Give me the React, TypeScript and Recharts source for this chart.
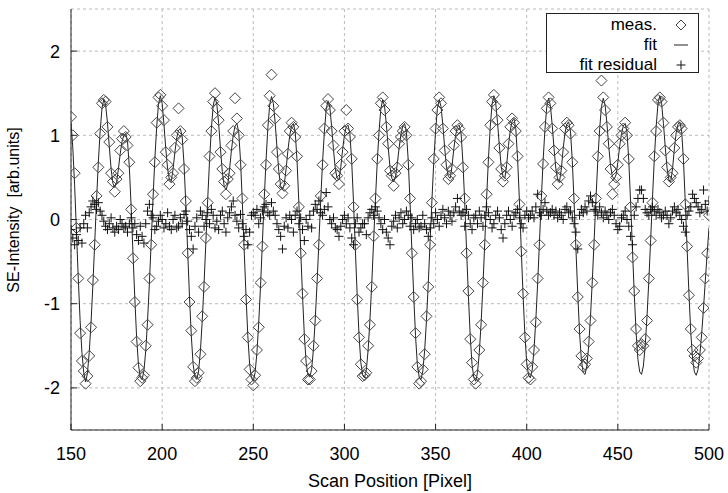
import React from 'react';
import { ComposedChart, Line, Scatter, XAxis, YAxis, CartesianGrid, Legend } from 'recharts';

// scan samples, one per pixel starting at 150
const X_START = 150;

// fitted curve (150..500)
const fit = [
  1.15, 0.85, 0.4, -0.15, -0.7, -1.2, -1.58, -1.82,
  // 158
  -1.93, -1.83, -1.58, -1.22, -0.78, -0.28, 0.22, 0.68, 1.05, 1.32, 1.43, 1.36, 1.15, 0.87, 0.6, 0.43, 0.38, 0.44, 0.6, 0.78, 0.93, 1.0, 1.02, 0.93, 0.62, 0.15, -0.4, -0.93, -1.4, -1.72, -1.88,
  // 189
  -1.9, -1.8, -1.56, -1.2, -0.76, -0.26, 0.25, 0.72, 1.1, 1.37, 1.47, 1.38, 1.13, 0.84, 0.6, 0.47, 0.45, 0.6, 0.8, 0.97, 1.06, 1.08, 0.98, 0.66, 0.18, -0.37, -0.92, -1.38, -1.72, -1.87,
  // 219
  -1.9, -1.8, -1.56, -1.2, -0.76, -0.26, 0.24, 0.7, 1.08, 1.35, 1.45, 1.37, 1.14, 0.84, 0.57, 0.4, 0.35, 0.42, 0.6, 0.82, 1.0, 1.11, 1.14, 1.04, 0.7, 0.2, -0.36, -0.9, -1.38, -1.72, -1.88,
  // 250
  -1.92, -1.82, -1.58, -1.22, -0.78, -0.27, 0.24, 0.7, 1.09, 1.36, 1.46, 1.38, 1.15, 0.85, 0.57, 0.4, 0.35, 0.42, 0.6, 0.82, 1.0, 1.11, 1.14, 1.04, 0.7, 0.2, -0.36, -0.9, -1.37, -1.7, -1.85,
  // 281
  -1.87, -1.78, -1.54, -1.18, -0.75, -0.26, 0.23, 0.68, 1.04, 1.31, 1.41, 1.33, 1.1, 0.83, 0.6, 0.49, 0.47, 0.62, 0.83, 1.0, 1.1, 1.12, 1.02, 0.68, 0.2, -0.36, -0.9, -1.37, -1.7, -1.85,
  // 311
  -1.88, -1.79, -1.55, -1.19, -0.76, -0.26, 0.23, 0.68, 1.05, 1.32, 1.42, 1.35, 1.13, 0.86, 0.62, 0.49, 0.45, 0.5, 0.66, 0.85, 1.01, 1.11, 1.14, 1.04, 0.7, 0.2, -0.36, -0.9, -1.38, -1.72, -1.87,
  // 342
  -1.9, -1.8, -1.56, -1.2, -0.76, -0.26, 0.23, 0.68, 1.05, 1.32, 1.42, 1.34, 1.12, 0.85, 0.62, 0.51, 0.49, 0.63, 0.84, 1.0, 1.1, 1.12, 1.02, 0.68, 0.2, -0.36, -0.9, -1.38, -1.72, -1.88,
  // 372
  -1.92, -1.82, -1.58, -1.22, -0.78, -0.27, 0.25, 0.72, 1.1, 1.37, 1.47, 1.38, 1.15, 0.87, 0.63, 0.51, 0.49, 0.65, 0.88, 1.06, 1.17, 1.2, 1.08, 0.72, 0.22, -0.35, -0.9, -1.37, -1.7, -1.85,
  // 402
  -1.88, -1.79, -1.55, -1.19, -0.76, -0.26, 0.24, 0.7, 1.07, 1.34, 1.44, 1.35, 1.12, 0.84, 0.6, 0.47, 0.45, 0.6, 0.84, 1.03, 1.13, 1.16, 1.05, 0.7, 0.2, -0.35, -0.88, -1.35, -1.67, -1.82,
  // 432
  -1.84, -1.74, -1.5, -1.15, -0.72, -0.24, 0.25, 0.7, 1.07, 1.34, 1.44, 1.36, 1.14, 0.87, 0.64, 0.51, 0.48, 0.53, 0.68, 0.87, 1.02, 1.11, 1.14, 1.04, 0.7, 0.2, -0.35, -0.88, -1.34, -1.66, -1.81,
  // 463
  -1.84, -1.74, -1.5, -1.15, -0.72, -0.24, 0.26, 0.72, 1.1, 1.37, 1.47, 1.38, 1.14, 0.86, 0.61, 0.47, 0.45, 0.6, 0.84, 1.03, 1.13, 1.16, 1.05, 0.7, 0.2, -0.35, -0.88, -1.34, -1.66, -1.81,
  // 493
  -1.85, -1.78, -1.6, -1.35, -1.05, -0.72, -0.4, -0.1,
];

// measured SE intensity
const meas = [
  1.22, 1.0, 0.55, -0.1, -0.7, -1.35, -1.68, -1.8,
  -1.95, -1.86, -1.62, -1.28, -0.72, -0.3, 0.28, 0.62, 1.02, 1.38, 1.42, 1.4, 1.1, 0.92, 0.55, 0.45, 0.33, 0.48, 0.55, 0.82, 0.96, 1.05, 0.98, 0.88, 0.68, 0.12, -0.46, -0.98, -1.45, -1.76, -1.92,
  -1.88, -1.85, -1.5, -1.25, -0.7, -0.3, 0.3, 0.68, 1.15, 1.45, 1.48, 1.35, 1.18, 0.8, 0.65, 0.42, 0.5, 0.55, 0.85, 1.0, 1.32, 1.05, 0.95, 0.6, 0.22, -0.4, -0.98, -1.32, -1.75, -1.92,
  -1.88, -1.82, -1.6, -1.15, -0.8, -0.22, 0.2, 0.75, 1.05, 1.4, 1.5, 1.32, 1.18, 0.8, 0.6, 0.45, 0.3, 0.48, 0.55, 0.88, 1.05, 1.44, 1.2, 1.0, 0.65, 0.25, -0.3, -0.95, -1.4, -1.78, -1.9,
  -1.97, -1.85, -1.55, -1.28, -0.75, -0.32, 0.3, 0.65, 1.12, 1.47, 1.72, 1.35, 1.2, 0.8, 0.6, 0.42, 0.31, 0.4, 0.58, 0.78, 1.05, 1.15, 1.1, 0.98, 0.75, 0.15, -0.4, -0.88, -1.42, -1.68, -1.9,
  -1.9, -1.8, -1.5, -1.2, -0.7, -0.3, 0.28, 0.65, 1.08, 1.35, 1.43, 1.3, 1.05, 0.88, 0.55, 0.52, 0.42, 0.65, 0.8, 1.05, 1.3, 1.08, 0.98, 0.72, 0.15, -0.3, -0.95, -1.4, -1.72, -1.86,
  -1.85, -1.82, -1.5, -1.25, -0.8, -0.2, 0.25, 0.72, 1.0, 1.38, 1.45, 1.3, 1.1, 0.9, 0.58, 0.52, 0.4, 0.55, 0.62, 0.9, 0.98, 1.05, 1.1, 1.0, 0.65, 0.25, -0.4, -0.92, -1.35, -1.75, -1.95,
  -1.92, -1.78, -1.6, -1.15, -0.8, -0.3, 0.2, 0.72, 1.08, 1.3, 1.45, 1.38, 1.08, 0.82, 0.65, 0.48, 0.52, 0.6, 0.88, 1.05, 1.12, 1.08, 0.98, 0.62, 0.25, -0.4, -0.85, -1.42, -1.7, -1.9,
  -1.95, -1.85, -1.55, -1.25, -0.75, -0.3, 0.3, 0.68, 1.12, 1.4, 1.48, 1.35, 1.18, 0.85, 0.6, 0.45, 0.52, 0.62, 0.9, 1.1, 1.2, 1.15, 1.05, 0.75, 0.18, -0.38, -0.88, -1.4, -1.72, -1.88,
  -1.9, -1.75, -1.55, -1.22, -0.7, -0.3, 0.28, 0.66, 1.1, 1.32, 1.45, 1.38, 1.08, 0.82, 0.62, 0.42, 0.5, 0.58, 0.8, 1.08, 1.15, 1.12, 1.02, 0.68, 0.25, -0.3, -0.92, -1.3, -1.62, -1.75,
  -1.72, -1.65, -1.45, -1.2, -0.75, -0.3, 0.25, 0.75, 1.05, 1.65, 1.45, 1.3, 1.1, 0.9, 0.6, 0.3, 0.42, 0.5, 0.65, 0.9, 1.0, 1.08, 1.15, 1.0, 0.72, 0.15, -0.45, -0.85, -1.3, -1.5, -1.55,
  -1.48, -1.5, -1.42, -1.2, -0.7, -0.25, 0.2, 0.75, 1.05, 1.42, 1.45, 1.4, 1.15, 0.82, 0.62, 0.45, 0.5, 0.55, 0.85, 1.0, 1.1, 1.12, 1.08, 0.72, 0.18, -0.32, -0.9, -1.3, -1.55, -1.62,
  -1.7, -1.65, -1.55, -1.4, -1.05, -0.7, -0.4, 0.05,
];

// fit residual
const residual = [
  -0.12, -0.22, -0.3, -0.18, -0.25, -0.1, -0.28, -0.05,
  0.05, -0.1, 0.08, 0.15, 0.22, 0.18, 0.12, 0.2, 0.1, 0.05, -0.02, -0.08, -0.12, -0.05, 0.02, -0.1, -0.15, -0.08, -0.12, 0.0, -0.05, -0.1, -0.08, -0.15, -0.05, 0.02, -0.1, -0.05, -0.18, -0.25, -0.08,
  -0.2, -0.28, -0.05, 0.1, 0.18, 0.05, 0.02, -0.12, -0.08, -0.02, 0.05, 0.0, -0.1, -0.05, 0.08, -0.08, -0.12, 0.0, 0.05, -0.1, -0.08, 0.02, -0.05, 0.06, 0.1, -0.02, -0.12, -0.2, -0.35, -0.08,
  0.02, -0.15, 0.1, 0.05, -0.08, 0.0, 0.08, -0.05, 0.12, 0.05, -0.1, -0.02, -0.12, 0.05, 0.1, -0.05, -0.15, 0.02, 0.08, 0.15, 0.22, 0.05, -0.02, -0.1, 0.06, -0.05, -0.2, -0.12, -0.3, -0.15, 0.05,
  0.08, 0.05, 0.12, -0.05, 0.02, 0.1, 0.15, 0.18, 0.08, 0.05, 0.2, 0.1, 0.05, -0.05, -0.12, -0.2, -0.35, -0.08, 0.02, -0.1, 0.05, 0.0, -0.15, 0.05, 0.1, -0.05, 0.02, -0.12, -0.25, 0.0, -0.08,
  0.05, -0.1, 0.1, 0.18, 0.12, 0.22, 0.08, 0.05, 0.12, 0.32, 0.15, 0.0, -0.05, 0.02, -0.1, -0.12, -0.2, -0.08, 0.0, 0.05, -0.05, 0.02, -0.1, -0.22, -0.3, -0.05, 0.02, -0.15, -0.1, -0.05,
  -0.05, -0.18, 0.02, 0.08, 0.12, 0.05, 0.15, 0.1, 0.02, -0.05, -0.12, 0.0, -0.15, -0.22, -0.3, -0.08, -0.02, 0.05, -0.1, 0.02, 0.08, -0.05, 0.0, 0.1, 0.05, -0.08, 0.02, -0.12, -0.05, 0.0, -0.1,
  -0.08, 0.05, -0.05, -0.12, -0.2, -0.1, 0.02, -0.05, 0.08, 0.0, -0.08, 0.05, 0.12, 0.02, -0.05, 0.1, 0.05, -0.02, 0.08, 0.15, 0.25, 0.1, 0.05, 0.08, -0.08, 0.12, 0.05, -0.05, -0.12, 0.02,
  0.05, -0.05, 0.1, 0.02, -0.08, 0.05, 0.15, 0.08, 0.0, -0.1, -0.05, 0.05, 0.1, 0.02, -0.12, -0.22, -0.05, 0.05, 0.1, 0.0, -0.08, 0.05, 0.08, 0.12, 0.02, -0.05, -0.1, 0.05, 0.1, 0.02,
  0.05, 0.1, 0.02, 0.15, 0.3, 0.08, 0.05, 0.12, 0.2, 0.1, 0.05, 0.08, 0.12, 0.05, 0.1, 0.02, 0.08, 0.05, 0.0, 0.12, 0.15, 0.08, 0.1, 0.02, -0.05, -0.15, -0.35, 0.05, 0.12, 0.08,
  0.15, 0.1, 0.22, 0.28, 0.2, 0.12, 0.1, 0.05, 0.15, 0.08, 0.02, 0.1, 0.05, 0.0, 0.08, 0.12, 0.05, -0.05, -0.12, -0.08, 0.02, 0.05, 0.1, 0.0, -0.08, -0.2, -0.3, 0.05, 0.15, 0.25, 0.35,
  0.35, 0.25, 0.12, 0.08, 0.05, 0.12, 0.15, 0.1, 0.05, 0.12, 0.08, 0.02, 0.05, 0.1, 0.05, -0.05, 0.02, 0.1, 0.15, 0.08, 0.12, 0.05, 0.0, -0.08, -0.15, 0.05, 0.1, 0.15, 0.3, 0.25,
  0.2, 0.15, 0.08, 0.12, 0.35, 0.18, 0.1, 0.22,
];

const xTicks = [150, 200, 250, 300, 350, 400, 450, 500];
const yTicks = [-2, -1, 0, 1, 2];

const FONT = '"Liberation Sans", Arial, sans-serif';
const INK = '#222';

const rows = fit.map((v, i) => ({ x: X_START + i, fit: v }));
const measPts = meas.map((v, i) => ({ x: X_START + i, y: v }));
const resPts = residual.map((v, i) => ({ x: X_START + i, y: v }));

const Diamond = ({ cx, cy }: any) => (
  <path d={`M${cx} ${cy - 5.5}L${cx + 5.5} ${cy}L${cx} ${cy + 5.5}L${cx - 5.5} ${cy}Z`} fill="none" stroke="#444" strokeWidth={1} />
);

const Cross = ({ cx, cy }: any) => (
  <path d={`M${cx - 4.5} ${cy}H${cx + 4.5}M${cx} ${cy - 4.5}V${cy + 4.5}`} stroke="#111" strokeWidth={1} />
);

const BottomTick = ({ x, y, payload }: any) => (
  <g>
    <line x1={x} y1={y} x2={x} y2={y - 6} stroke={INK} />
    <text x={x} y={y + 30} textAnchor="middle" fill="#000" style={{ fontSize: 18, fontFamily: FONT }}>{payload.value}</text>
  </g>
);

const LeftTick = ({ x, y, payload }: any) => (
  <g>
    <line x1={x} y1={y} x2={x + 6} y2={y} stroke={INK} />
    <text x={x - 11} y={y + 6.5} textAnchor="end" fill="#000" style={{ fontSize: 18, fontFamily: FONT }}>{payload.value}</text>
  </g>
);

const TopTick = ({ x, y }: any) => <line x1={x} y1={y} x2={x} y2={y + 6} stroke={INK} />;
const RightTick = ({ x, y }: any) => <line x1={x} y1={y} x2={x - 6} y2={y} stroke={INK} />;

const LegendBox = () => {
  const row = { display: 'flex', justifyContent: 'flex-end', alignItems: 'center', height: 20 } as const;
  const sym = { width: 16, height: 16, marginLeft: 16 };
  return (
    <div style={{ boxSizing: 'border-box', width: 153, height: 60, border: '1px solid #222', background: '#fff', paddingTop: 1, paddingRight: 9, fontFamily: FONT, fontSize: 17, color: '#000' }}>
      <div style={row}>
        <span>meas.</span>
        <svg style={sym}><path d="M8 3L13 8L8 13L3 8Z" fill="none" stroke="#444" /></svg>
      </div>
      <div style={row}>
        <span>fit</span>
        <svg style={sym}><line x1={1} y1={8} x2={15} y2={8} stroke={INK} /></svg>
      </div>
      <div style={row}>
        <span>fit residual</span>
        <svg style={sym}><path d="M3.5 8H12.5M8 3.5V12.5" stroke="#111" /></svg>
      </div>
    </div>
  );
};

export default function App() {
  return (
    <div style={{ position: 'absolute', left: 0, top: 0 }}>
      <ComposedChart width={728} height={493} data={rows} margin={{ top: 9, right: 19, bottom: 0, left: 0 }}>
        <CartesianGrid stroke="#bbb" strokeDasharray="3 3" />
        <XAxis
          dataKey="x"
          type="number"
          domain={[150, 500]}
          ticks={xTicks}
          allowDataOverflow
          height={63}
          stroke={INK}
          tickLine={false}
          tickSize={0}
          tickMargin={0}
          tick={<BottomTick />}
          label={{
            content: () => (
              <text x={390} y={487} textAnchor="middle" fill="#000" style={{ fontSize: 18, fontFamily: FONT }}>Scan Position [Pixel]</text>
            ),
          }}
        />
        <XAxis xAxisId="top" orientation="top" dataKey="x" type="number" domain={[150, 500]} ticks={xTicks} allowDataOverflow height={0} stroke={INK} tickLine={false} tickSize={0} tickMargin={0} tick={<TopTick />} />
        <YAxis
          type="number"
          domain={[-2.5, 2.5]}
          ticks={yTicks}
          allowDataOverflow
          width={71}
          stroke={INK}
          tickLine={false}
          tickSize={0}
          tickMargin={0}
          tick={<LeftTick />}
          label={{
            content: () => (
              <text x={19} y={210} transform="rotate(-90 19 210)" textAnchor="middle" fill="#000" style={{ fontSize: 16, fontFamily: FONT, whiteSpace: 'pre' }}>SE-Intensity  [arb.units]</text>
            ),
          }}
        />
        <YAxis yAxisId="right" orientation="right" type="number" domain={[-2.5, 2.5]} ticks={yTicks} allowDataOverflow width={0} stroke={INK} tickLine={false} tickSize={0} tickMargin={0} tick={<RightTick />} />
        <Scatter name="meas." data={measPts} dataKey="y" shape={<Diamond />} isAnimationActive={false} />
        <Line name="fit" dataKey="fit" type="linear" stroke={INK} strokeWidth={1} dot={false} activeDot={false} isAnimationActive={false} />
        <Scatter name="fit residual" data={resPts} dataKey="y" shape={<Cross />} isAnimationActive={false} />
        <Legend
          layout="horizontal"
          verticalAlign="middle"
          align="center"
          content={<LegendBox />}
          wrapperStyle={{ position: 'absolute', left: 546, top: 13, width: 153, height: 60 }}
        />
      </ComposedChart>
    </div>
  );
}
